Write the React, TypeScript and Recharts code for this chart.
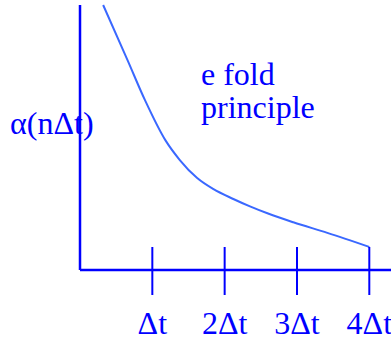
import React from 'react';
import { LineChart, Line, XAxis, YAxis } from 'recharts';

// curve samples (x in units of Δt, alpha normalised)
const stepPos = [0.32, 0.66, 0.9, 1.18, 1.38, 1.62, 1.84, 2.12, 2.35, 2.6, 2.95, 3.42, 4.0];
const alphaVals = [1.0, 0.79, 0.64, 0.49, 0.415, 0.347, 0.306, 0.268, 0.24, 0.213, 0.18, 0.14, 0.087];
const tickValues = [1, 2, 3, 4];
const tickLabels = ['Δt', '2Δt', '3Δt', '4Δt'];
const yLabel = 'α(nΔt)';
const noteLines = ['e fold', 'principle'];

const data = stepPos.map((x, i) => ({ x, alpha: alphaVals[i] }));

const BLUE = '#0000ff';
const CURVE = '#3a68ff';
const FONT = '"Liberation Serif", "Times New Roman", serif';

const StepTick = (props: any) => {
  const { x, y, payload } = props;
  const i = tickValues.indexOf(payload.value);
  return (
    <g>
      <line x1={x} x2={x} y1={y - 23} y2={y + 25} stroke={BLUE} strokeWidth={2} />
      <text x={x} y={y + 64} textAnchor="middle" fill={BLUE} fontSize={32} fontFamily={FONT}>
        {tickLabels[i]}
      </text>
    </g>
  );
};

export default function App() {
  return (
    <div style={{ position: 'absolute', left: 0, top: 0, width: 391, height: 341, background: '#fff' }}>
      <svg width={391} height={341} style={{ position: 'absolute', left: 0, top: 0 }}>
        <text x={10} y={134} fill={BLUE} fontSize={32} fontFamily={FONT}>{yLabel}</text>
        {noteLines.map((t, i) => (
          <text key={t} x={201} y={85 + i * 33} fill={BLUE} fontSize={32} fontFamily={FONT}>{t}</text>
        ))}
      </svg>
      <div style={{ position: 'absolute', left: 0, top: 0 }}>
        <LineChart width={391} height={341} data={data} margin={{ top: 5, right: 0, left: 0, bottom: 0 }}>
          <XAxis
            dataKey="x"
            type="number"
            domain={[0, 4.3]}
            ticks={tickValues}
            tickLine={false}
            tickSize={0}
            tickMargin={0}
            tick={<StepTick />}
            height={71}
            axisLine={{ stroke: BLUE, strokeWidth: 2.5 }}
            interval={0}
          />
          <YAxis
            type="number"
            domain={[0, 1]}
            width={80}
            tick={false}
            tickLine={false}
            axisLine={{ stroke: BLUE, strokeWidth: 2.5 }}
          />
          <Line
            dataKey="alpha"
            type="monotone"
            stroke={CURVE}
            strokeWidth={2}
            dot={false}
            isAnimationActive={false}
          />
        </LineChart>
      </div>
    </div>
  );
}
